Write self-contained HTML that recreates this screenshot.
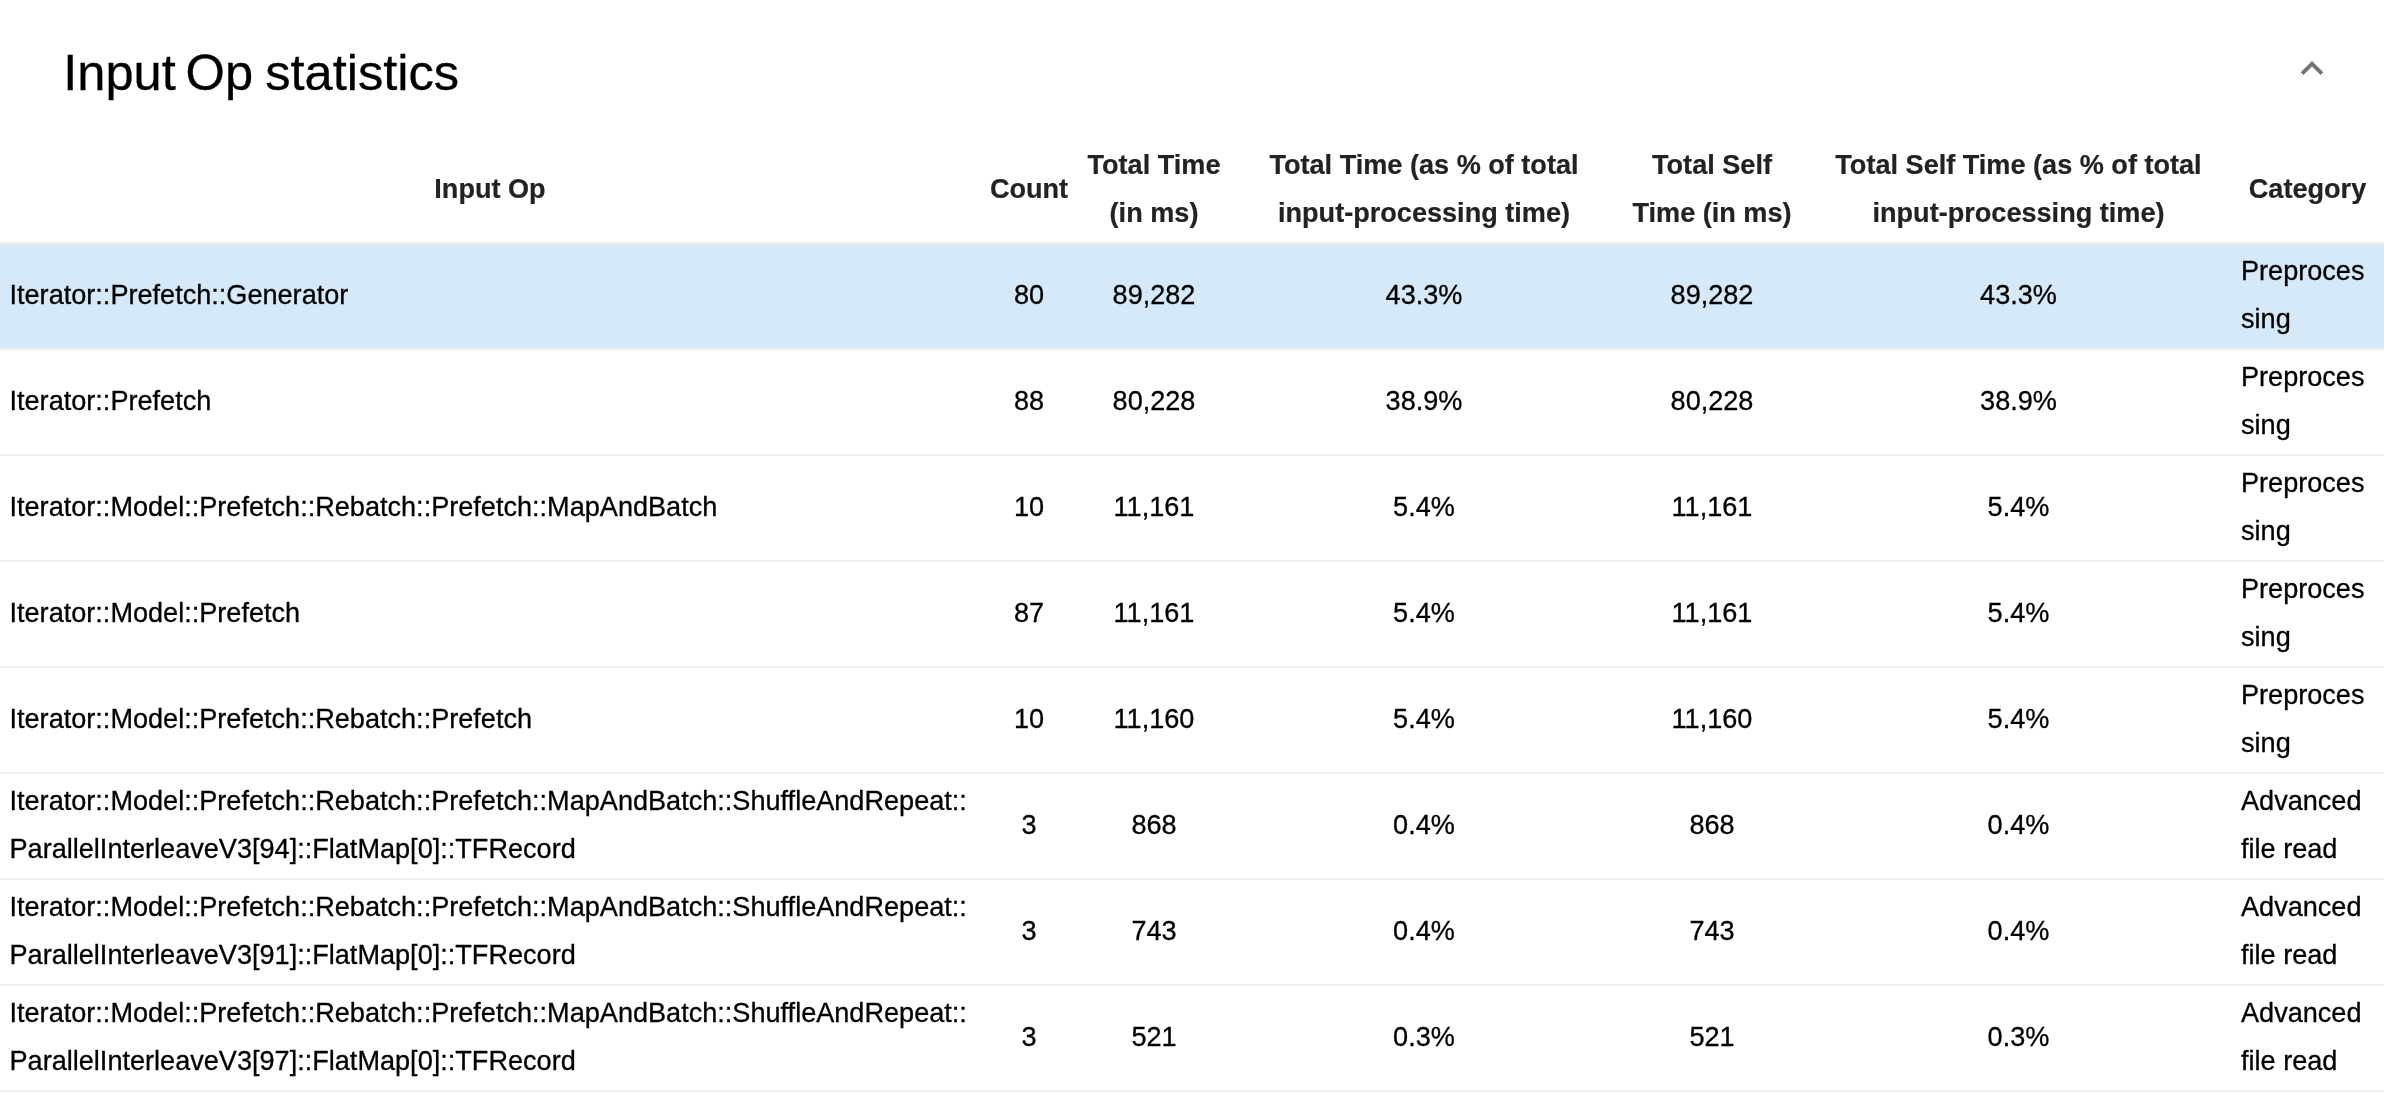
<!DOCTYPE html>
<html><head><meta charset="utf-8">
<style>
html,body{margin:0;padding:0;background:#fff;}
body{will-change:transform;width:2384px;height:1094px;overflow:hidden;position:relative;font-family:"Liberation Sans",sans-serif;}
#title span{-webkit-text-stroke:0.3px #000;position:absolute;top:43.2px;font-size:50.6px;line-height:60px;color:#000;white-space:nowrap;}
#chev{position:absolute;left:0;top:0;width:2384px;height:120px;}
table{position:absolute;left:0;top:138px;width:2384px;border-collapse:collapse;border-spacing:0;table-layout:fixed;font-size:27.1px;line-height:48px;color:#000;}
th{font-weight:bold;color:#222;padding:3px 6px 5px 6px;text-align:center;vertical-align:middle;border-bottom:2px solid #eee;height:94px;box-sizing:content-box;}
td{padding:3px 6px 5px 6px;text-align:center;vertical-align:middle;border-bottom:2px solid #eee;height:96px;box-sizing:content-box;}
td{-webkit-text-stroke:0.3px #000;}
th{-webkit-text-stroke:0.2px #222;}
td.l{text-align:left;padding-left:9.5px;}
td.l:last-child{padding-left:10px;}
tr.sel td{background:#d6e9f8;}
</style></head><body>
<div id="title"><span id="t1" style="left:63.2px">Input</span><span id="t2" style="left:185.6px">Op</span><span id="t3" style="left:265.2px">statistics</span></div>
<svg id="chev" viewBox="0 0 2384 120"><path d="M2312 61 L2323.3 72.3 L2320.5 75.1 L2312 66.6 L2303.5 75.1 L2300.7 72.3 Z" fill="#757575"/></svg>
<table>
<colgroup><col style="width:980px"><col style="width:98px"><col style="width:152px"><col style="width:388px"><col style="width:188px"><col style="width:425px"><col style="width:153px"></colgroup>
<thead><tr><th>Input Op</th><th>Count</th><th>Total Time<br>(in ms)</th><th>Total Time (as % of total<br>input-processing time)</th><th>Total Self<br>Time (in ms)</th><th>Total Self Time (as % of total<br>input-processing time)</th><th>Category</th></tr></thead>
<tbody>
<tr class="sel"><td class="l">Iterator::Prefetch::Generator</td><td>80</td><td>89,282</td><td>43.3%</td><td>89,282</td><td>43.3%</td><td class="l">Preproces<br>sing</td></tr>
<tr><td class="l">Iterator::Prefetch</td><td>88</td><td>80,228</td><td>38.9%</td><td>80,228</td><td>38.9%</td><td class="l">Preproces<br>sing</td></tr>
<tr><td class="l">Iterator::Model::Prefetch::Rebatch::Prefetch::MapAndBatch</td><td>10</td><td>11,161</td><td>5.4%</td><td>11,161</td><td>5.4%</td><td class="l">Preproces<br>sing</td></tr>
<tr><td class="l">Iterator::Model::Prefetch</td><td>87</td><td>11,161</td><td>5.4%</td><td>11,161</td><td>5.4%</td><td class="l">Preproces<br>sing</td></tr>
<tr><td class="l">Iterator::Model::Prefetch::Rebatch::Prefetch</td><td>10</td><td>11,160</td><td>5.4%</td><td>11,160</td><td>5.4%</td><td class="l">Preproces<br>sing</td></tr>
<tr><td class="l">Iterator::Model::Prefetch::Rebatch::Prefetch::MapAndBatch::ShuffleAndRepeat::<br>ParallelInterleaveV3[94]::FlatMap[0]::TFRecord</td><td>3</td><td>868</td><td>0.4%</td><td>868</td><td>0.4%</td><td class="l">Advanced<br>file read</td></tr>
<tr><td class="l">Iterator::Model::Prefetch::Rebatch::Prefetch::MapAndBatch::ShuffleAndRepeat::<br>ParallelInterleaveV3[91]::FlatMap[0]::TFRecord</td><td>3</td><td>743</td><td>0.4%</td><td>743</td><td>0.4%</td><td class="l">Advanced<br>file read</td></tr>
<tr><td class="l">Iterator::Model::Prefetch::Rebatch::Prefetch::MapAndBatch::ShuffleAndRepeat::<br>ParallelInterleaveV3[97]::FlatMap[0]::TFRecord</td><td>3</td><td>521</td><td>0.3%</td><td>521</td><td>0.3%</td><td class="l">Advanced<br>file read</td></tr>
</tbody></table>
</body></html>
